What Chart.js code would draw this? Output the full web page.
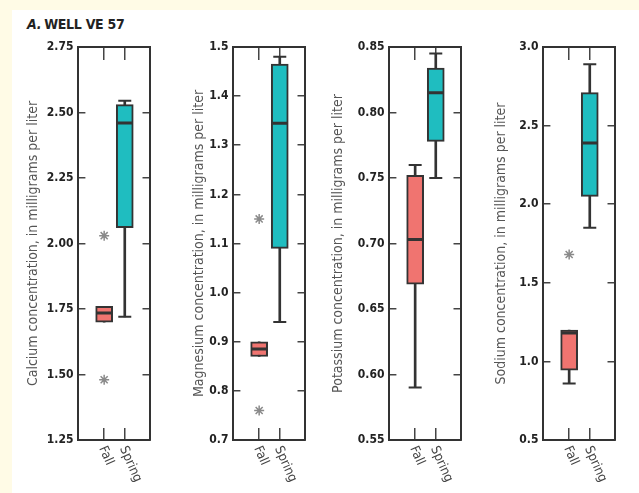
<!DOCTYPE html>
<html>
<head>
<meta charset="utf-8">
<script src="https://cdn.jsdelivr.net/npm/chart.js@4.4.0/dist/chart.umd.min.js"></script>
<style>
  html, body { margin: 0; padding: 0; }
  body { width: 639px; height: 493px; background: #fffbe6; position: relative; overflow: hidden; }
  #sheet { position: absolute; left: 12px; top: 10px; right: 0; bottom: 0; background: #fff; }
  #title { position: absolute; left: 27px; top: 16px; font: bold 14px "Liberation Sans Narrow", "DejaVu Sans Condensed", sans-serif; color: #222; letter-spacing: -0.3px; }
  #title i { margin-right: 3px; }
  canvas { position: absolute; }
</style>
</head>
<body>
<div id="sheet"></div>
<div id="title"><i>A.</i>WELL VE 57</div>
<canvas id="ca"></canvas>
<canvas id="mg"></canvas>
<canvas id="k"></canvas>
<canvas id="na"></canvas>
<script>
// categories
const seasons = ["Fall", "Spring"]
const boxColors = ["#f07470", "#1fbdc0"]

// each row: min, q1, median, q3, max  (Fall, Spring)
const calciumBox = [[1.70, 1.70, 1.735, 1.76, 1.76], [1.72, 2.06, 2.46, 2.53, 2.545]]
const calciumOutliers = [[2.03, 1.48], []]
const calciumAxis = [1.25, 2.75, 0.25, 2]   // min, max, step, decimals

const magnesiumBox = [[0.87, 0.87, 0.885, 0.90, 0.90], [0.94, 1.09, 1.345, 1.465, 1.48]]
const magnesiumOutliers = [[1.15, 0.76], []]
const magnesiumAxis = [0.7, 1.5, 0.1, 1]

const potassiumBox = [[0.59, 0.669, 0.703, 0.752, 0.76], [0.75, 0.778, 0.815, 0.834, 0.845]]
const potassiumOutliers = [[], []]
const potassiumAxis = [0.55, 0.85, 0.05, 2]

const sodiumBox = [[0.86, 0.945, 1.18, 1.20, 1.20], [1.85, 2.05, 2.39, 2.71, 2.89]]
const sodiumOutliers = [[1.68], []]
const sodiumAxis = [0.5, 3.0, 0.5, 1]

const FONT = '"Liberation Sans Narrow", "DejaVu Sans Condensed", sans-serif'
const INK = "#333"

// where each plot frame sits on the page
const plotTop = 47
const plotHeight = 393
const plotWidth = 76
const padRight = 6
const xAxisHeight = 50
const titleSize = 14

const seasonLabels = {
  id: "seasonLabels",
  afterDraw(chart) {
    const xs = chart.scales.x
    const ctx = chart.ctx
    ctx.save()
    ctx.font = "13px " + FONT
    ctx.fillStyle = "#444"
    ctx.textAlign = "left"
    ctx.textBaseline = "middle"
    seasons.forEach((s, i) => {
      ctx.save()
      ctx.translate(xs.getPixelForValue(i) - 2, xs.top + 7)
      ctx.rotate(66 * Math.PI / 180)
      ctx.fillText(s, 0, 0)
      ctx.restore()
    })
    ctx.restore()
  }
}

function makePanel(id, boxLeft, titleOffset, box, outliers, axis, title) {
  const yWidth = titleOffset + titleSize * 0.6
  const canvas = document.getElementById(id)
  canvas.width = Math.round(yWidth + plotWidth + padRight)
  canvas.height = 20 + plotHeight + xAxisHeight
  canvas.style.left = (boxLeft - yWidth) + "px"
  canvas.style.top = (plotTop - 20) + "px"

  const whiskers = seasons.map((s, i) => ({ x: i, y: [box[i][0], box[i][4]] }))
  const boxes = seasons.map((s, i) => ({ x: i, y: [box[i][1], box[i][3]] }))
  const medians = seasons.map((s, i) => ({ x: i, y: box[i][2] }))
  const caps = []
  seasons.forEach((s, i) => {
    if (box[i][0] < box[i][1]) caps.push({ x: i, y: box[i][0] })
    if (box[i][4] > box[i][3]) caps.push({ x: i, y: box[i][4] })
  })
  const stars = []
  outliers.forEach((list, i) => list.forEach(v => stars.push({ x: i, y: v })))

  const [yMin, yMax, step, dec] = axis
  const xRange = { min: -1.25, max: 2.2 }
  const twoTicks = s => { s.ticks = [{ value: 0 }, { value: 1 }] }

  return new Chart(canvas, {
    type: "bar",
    data: {
      datasets: [
        { data: whiskers, backgroundColor: INK, barThickness: 2, grouped: false, order: 4 },
        { data: boxes, backgroundColor: boxColors, borderColor: INK, borderWidth: 2, borderSkipped: false, barThickness: 17, grouped: false, order: 3 },
        { type: "scatter", data: caps, pointStyle: "line", radius: 6.5, borderColor: INK, borderWidth: 2, order: 2 },
        { type: "scatter", data: medians, pointStyle: "line", radius: 7.5, borderColor: INK, borderWidth: 3, order: 1 },
        { type: "scatter", data: stars, pointStyle: "star", radius: 5, borderColor: "#8a8a8a", borderWidth: 1.5, order: 0 }
      ]
    },
    options: {
      responsive: false,
      animation: false,
      events: [],
      layout: { padding: { top: 20, right: padRight, left: 0, bottom: 0 } },
      plugins: { legend: { display: false }, tooltip: { enabled: false } },
      scales: {
        x: {
          type: "linear", position: "bottom", ...xRange, offset: false,
          afterBuildTicks: twoTicks,
          afterFit: s => { s.height = xAxisHeight },
          ticks: { display: false },
          grid: { offset: false, drawOnChartArea: false, tickLength: -12, color: "#444", lineWidth: 1.5 },
          border: { color: INK, width: 2 }
        },
        xTop: {
          type: "linear", position: "top", ...xRange, offset: false,
          afterBuildTicks: twoTicks,
          afterFit: s => { s.height = 0 },
          ticks: { display: false },
          grid: { offset: false, drawOnChartArea: false, tickLength: -13, color: "#444", lineWidth: 1.5 },
          border: { color: INK, width: 2 }
        },
        y: {
          position: "left", min: yMin, max: yMax,
          afterFit: s => { s.width = yWidth },
          ticks: { stepSize: step, padding: 12, color: "#222", font: { family: FONT, size: 12, weight: "bold" }, callback: v => Number(v).toFixed(dec) },
          grid: { drawOnChartArea: false, tickLength: -7, color: "#444", lineWidth: 1.5 },
          border: { color: INK, width: 2 },
          title: { display: true, text: title, color: "#555", padding: 0, font: { family: FONT, size: titleSize, lineHeight: 1.2 } }
        },
        yRight: {
          position: "right", min: yMin, max: yMax,
          afterFit: s => { s.width = 0 },
          ticks: { stepSize: step, display: false },
          grid: { drawOnChartArea: false, tickLength: -7, color: "#444", lineWidth: 1.5 },
          border: { color: INK, width: 2 }
        }
      }
    },
    plugins: [seasonLabels]
  })
}

makePanel("ca", 78, 45, calciumBox, calciumOutliers, calciumAxis, "Calcium concentration, in milligrams per liter")
makePanel("mg", 233, 34, magnesiumBox, magnesiumOutliers, magnesiumAxis, "Magnesium concentration, in milligrams per liter")
makePanel("k", 389, 51, potassiumBox, potassiumOutliers, potassiumAxis, "Potassium concentration, in milligrams per liter")
makePanel("na", 543, 42, sodiumBox, sodiumOutliers, sodiumAxis, "Sodium concentration, in milligrams per liter")
</script>
</body>
</html>
